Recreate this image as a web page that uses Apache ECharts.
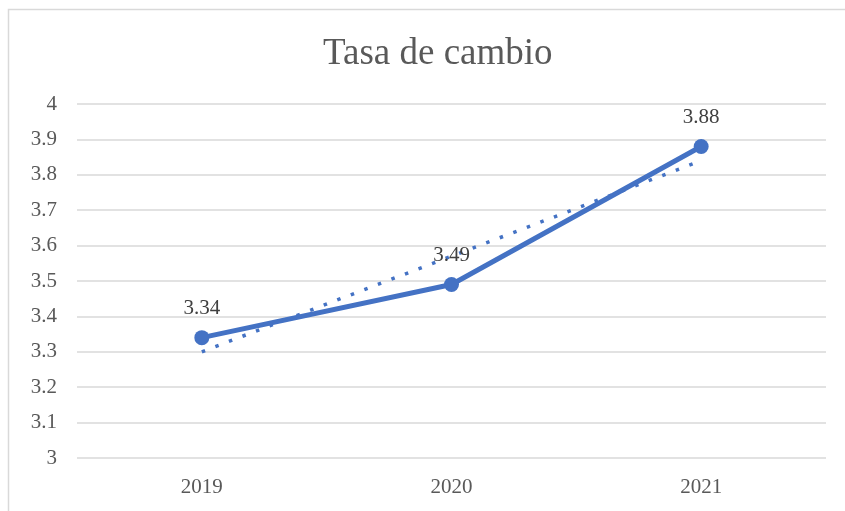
<!DOCTYPE html>
<html>
<head>
<meta charset="utf-8">
<script src="https://cdn.jsdelivr.net/npm/echarts@6/dist/echarts.min.js"></script>
<style>
  html, body { margin: 0; padding: 0; background: #fff; }
  #chart { width: 845px; height: 511px; }
</style>
</head>
<body>
<div id="chart"></div>
<script>
// datos
const years = ['2019', '2020', '2021']
const tasa = [3.34, 3.49, 3.88]
// linea de tendencia
const tendencia = [3.30, 3.57, 3.84]

const serif = '"Liberation Serif", "DejaVu Serif", serif'
const blue = '#4472c4'

const chart = echarts.init(document.getElementById('chart'))
chart.setOption({
  animation: false,
  title: {
    text: 'Tasa de cambio',
    left: 318,
    top: 31,
    textStyle: { fontFamily: serif, fontSize: 37, fontWeight: 'normal', color: '#595959' }
  },
  graphic: [
    {
      type: 'rect',
      shape: { x: 8.5, y: 9.5, width: 860, height: 520 },
      style: { fill: 'none', stroke: '#d9d9d9', lineWidth: 1.5 },
      silent: true
    }
  ],
  grid: { left: 77, right: 19, top: 104, bottom: 53 },
  xAxis: {
    type: 'category',
    data: years,
    boundaryGap: true,
    axisLine: { show: false },
    axisTick: { show: false },
    axisLabel: { fontFamily: serif, fontSize: 21, color: '#595959', margin: 19 }
  },
  yAxis: {
    type: 'value',
    min: 3,
    max: 4,
    interval: 0.1,
    axisLine: { show: false },
    axisTick: { show: false },
    splitLine: { lineStyle: { color: '#d9d9d9', width: 1.5 } },
    axisLabel: {
      fontFamily: serif, fontSize: 21, color: '#595959', margin: 20,
      formatter: (v) => String(Math.round(v * 10) / 10)
    }
  },
  series: [
    {
      name: 'Tendencia',
      type: 'line',
      data: tendencia,
      symbol: 'none',
      lineStyle: { color: blue, width: 3.5, type: [3.5, 11] },
      z: 2
    },
    {
      name: 'Tasa de cambio',
      type: 'line',
      data: tasa,
      symbol: 'circle',
      symbolSize: 15,
      itemStyle: { color: blue },
      lineStyle: { color: blue, width: 5 },
      label: {
        show: true,
        position: 'top',
        distance: 11,
        fontFamily: serif,
        fontSize: 21,
        color: '#404040'
      },
      z: 3
    }
  ]
})
</script>
</body>
</html>
